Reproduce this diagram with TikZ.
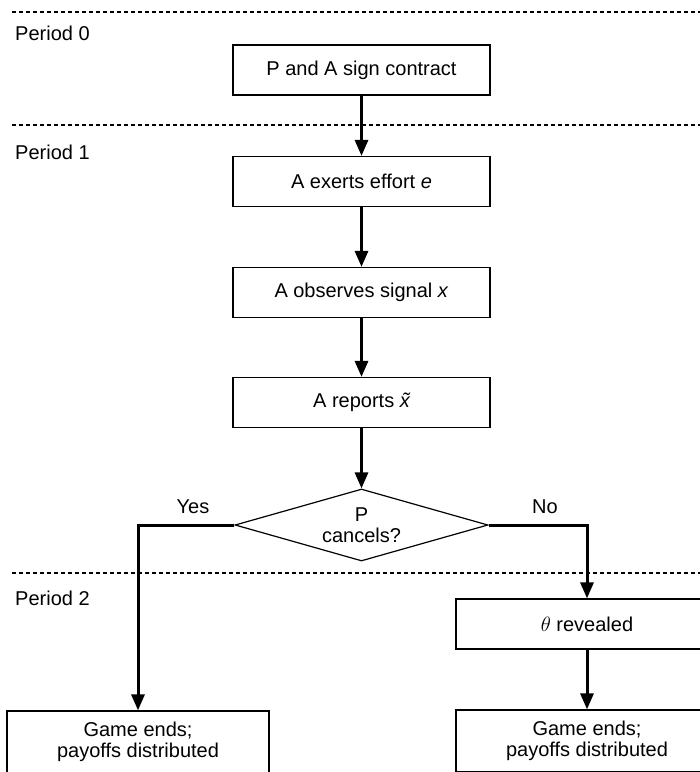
\documentclass[tikz,border=0pt]{standalone}
\usepackage{fontspec}
\setmainfont{Liberation Sans}
\usetikzlibrary{shapes.geometric,arrows.meta}
\tikzset{
  box/.style={draw, line width=1.2pt, minimum width=257pt, minimum height=50pt, inner sep=0pt, align=center, font=\fontsize{20}{21}\selectfont},
  widebox/.style={box, minimum width=262pt, minimum height=62pt},
  decision/.style={draw, diamond, line width=1.2pt, aspect=3.5, minimum width=253pt, minimum height=72pt, inner sep=0pt, align=center, font=\fontsize{20}{21}\selectfont},
  arr/.style={line width=3pt, -{Triangle[width=13pt,length=16pt]}},
  sep/.style={line width=2pt, dash pattern=on 3.5pt off 3.5pt},
  lbl/.style={anchor=west, inner sep=0pt, font=\fontsize{20}{21}\selectfont},
  ans/.style={inner sep=0pt, font=\fontsize{20}{21}\selectfont}
}
\begin{document}
\begin{tikzpicture}[x=1pt,y=-1pt]
\clip (0,0) rectangle (700,772);
\fill[white] (0,0) rectangle (700,772);
% period separators
\draw[sep] (12,12) -- (700,12);
\draw[sep] (12,125) -- (700,125);
\draw[sep] (12,573) -- (700,573);
\node[lbl] (p0) at (15,33) {Period 0};
\node[lbl] (p1) at (15,152) {Period 1};
\node[lbl] (p2) at (15,598) {Period 2};
% boxes
\node[box] (b1) at (361.5,70) {P and A sign contract};
\node[box] (b2) at (361.5,181.5) {A exerts effort \textit{e}};
\node[box] (b3) at (361.5,292.5) {A observes signal \textit{x}};
\node[box] (b4) at (361.5,402.5) {A reports \textit{\~{x}}};
\node[decision] (d) at (361.5,525) {P\\cancels?};
\node[box, minimum width=262pt] (th) at (587,624) {$\theta$ revealed};
\node[widebox] (bl) at (138,742) {Game ends;\\payoffs distributed};
\node[widebox] (br) at (587,741) {Game ends;\\payoffs distributed};
% connectors
\draw[arr] (b1) -- (b2);
\draw[arr] (b2) -- (b3);
\draw[arr] (b3) -- (b4);
\draw[arr] (b4) -- (d);
\draw[arr] (d.west) -| (bl.north);
\draw[arr] (d.east) -| (th.north);
\draw[arr] (th) -- (br);
\node[ans] (yes) at (193,507) {Yes};
\node[ans] (no) at (545,507) {No};
\end{tikzpicture}
\end{document}
